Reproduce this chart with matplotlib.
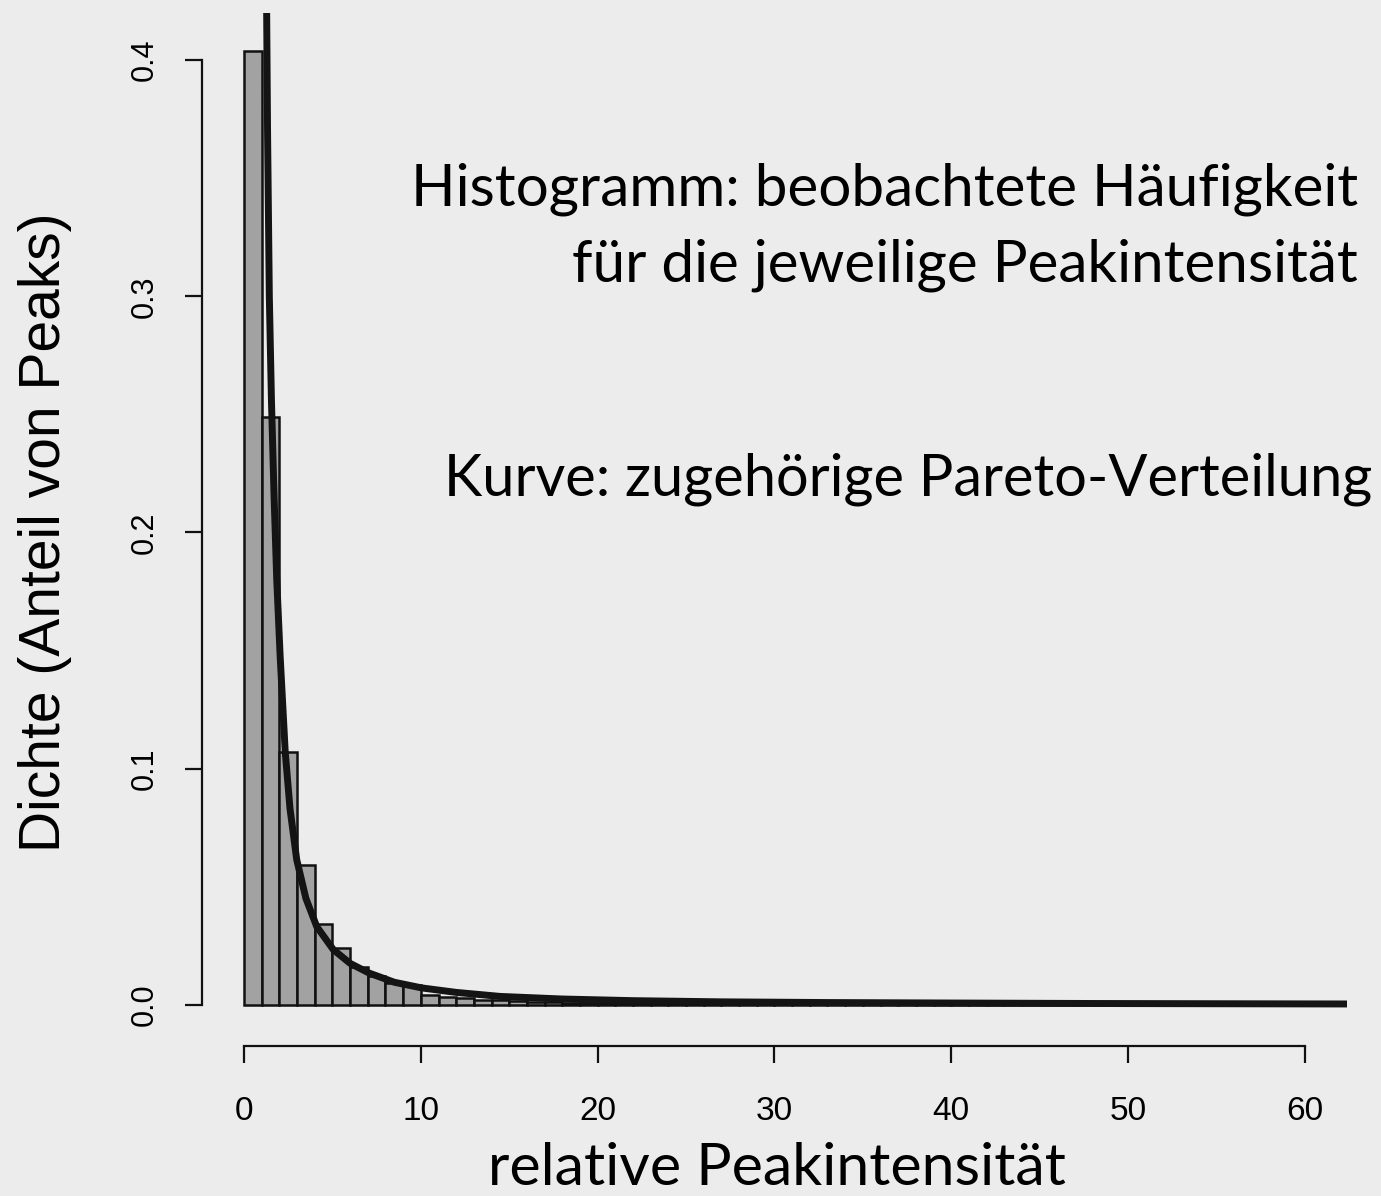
import matplotlib
matplotlib.use("Agg")
import matplotlib.pyplot as plt
import numpy as np

# histogram: bin edges 0..60, width 1 (density)
bin_edges = np.arange(0, 61, 1)
density = [0.404, 0.249, 0.107, 0.059, 0.034, 0.024, 0.016, 0.012, 0.0092, 0.0085,
           0.0042, 0.0031, 0.0027, 0.0021, 0.0018, 0.0016, 0.0013, 0.0011, 0.0009, 0.0008,
           0.0007, 0.0006, 0.0005, 0.0005, 0.0004, 0.0004, 0.0003, 0.0003, 0.0003, 0.0002,
           0.0002, 0.0002, 0.0002, 0.0002, 0.0001, 0.0001, 0.0001, 0.0001, 0.0001, 0.0001,
           0.0001, 0.0001, 0.0001, 0.0001, 0.0001, 0.0, 0.0001, 0.0, 0.0001, 0.0,
           0.0, 0.0001, 0.0, 0.0, 0.0001, 0.0, 0.0, 0.0, 0.0001, 0.0]

# Pareto curve, points
curve_x = [1.27, 1.28, 1.33, 1.43, 1.55, 1.7, 1.85, 2.04, 2.33, 2.6, 2.98, 3.5, 4.11,
           5.05, 6.0, 7.07, 8.5, 10.05, 12.0, 14.48, 18.0, 22.0, 27.0, 33.0, 40.0, 48.0,
           55.0, 62.4]
curve_y = [0.44, 0.42, 0.37, 0.30, 0.256, 0.215, 0.18, 0.148, 0.107, 0.083, 0.0614,
           0.045, 0.0331, 0.0233, 0.0175, 0.0134, 0.0095, 0.0071, 0.0052, 0.0035, 0.0024,
           0.0017, 0.0012, 0.0009, 0.0007, 0.0005, 0.0004, 0.0003]

xticks = [0, 10, 20, 30, 40, 50, 60]
yticks = [0.0, 0.1, 0.2, 0.3, 0.4]

W, H = 1381, 1196
bg = "#ececec"
fig = plt.figure(figsize=(W / 100, H / 100), dpi=100, facecolor=bg)
ax = fig.add_axes([201.6 / W, 1 - 1046 / H, (1347.3 - 201.6) / W, (1046 - 13) / H])
ax.set_facecolor(bg)

ax.bar(bin_edges[:-1], density, width=1, align="edge", color="#a2a2a2",
       edgecolor="#111111", linewidth=1.8)
ax.plot(curve_x, curve_y, color="#141414", lw=5, solid_capstyle="butt")

ax.set_xlim(-2.4, 62.4)
ax.set_ylim(-0.0175, 0.42)

for s in ["top", "right"]:
    ax.spines[s].set_visible(False)
ax.spines["left"].set_bounds(0, 0.4)
ax.spines["bottom"].set_bounds(0, 60)
for s in ["left", "bottom"]:
    ax.spines[s].set_linewidth(1.6)
    ax.spines[s].set_color("#111111")

ax.set_xticks(xticks)
ax.set_xticklabels([str(t) for t in xticks], family="Liberation Sans", fontsize=24)
ax.set_yticks(yticks)
ax.set_yticklabels(["%.1f" % t for t in yticks], family="Liberation Sans",
                   fontsize=22, rotation=90, va="center")
ax.tick_params(axis="x", length=12, width=1.6, pad=24, color="#111111")
ax.tick_params(axis="y", length=12, width=1.6, pad=18, color="#111111")

fig.text(45 / W, 1 - 532 / H, "Dichte (Anteil von Peaks)", family="Liberation Sans",
         fontsize=41, rotation=90, ha="center", va="center")

fig.text(777 / W, 1 - 1185 / H, "relative Peakintensität", family="Lato",
         fontsize=42.5, ha="center", va="baseline")

fig.text(1358 / W, 1 - 206 / H, "Histogramm: beobachtete Häufigkeit", family="Lato",
         fontsize=42, ha="right", va="baseline")
fig.text(1358 / W, 1 - 282 / H, "für die jeweilige Peakintensität", family="Lato",
         fontsize=42, ha="right", va="baseline")
fig.text(1372 / W, 1 - 495 / H, "Kurve: zugehörige Pareto-Verteilung", family="Lato",
         fontsize=41.6, ha="right", va="baseline")

fig.savefig("out.png", dpi=100, facecolor=bg)
